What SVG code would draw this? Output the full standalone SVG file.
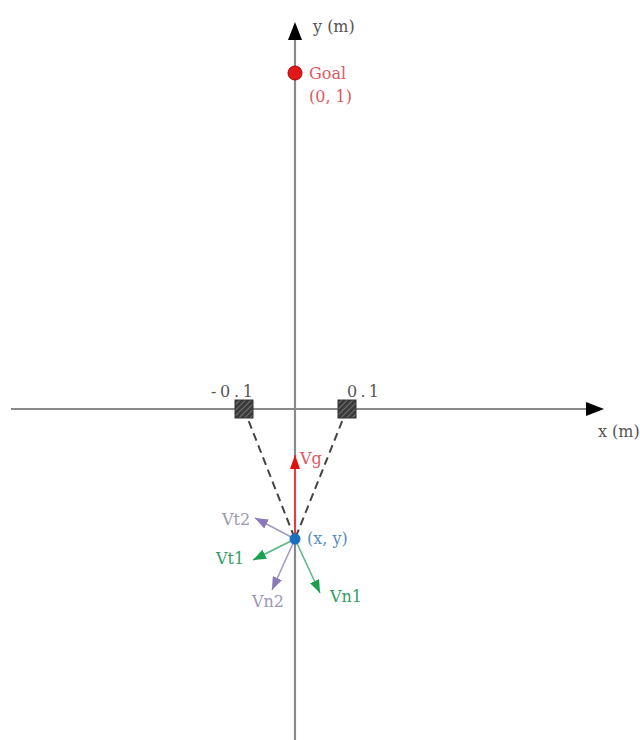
<svg xmlns="http://www.w3.org/2000/svg" width="640" height="740" viewBox="0 0 640 740">
<style>
.axis{stroke:#8a8a8a;stroke-width:2.2;fill:none}
.dash{stroke:#444;stroke-width:2;stroke-dasharray:8 5;fill:none}
.t{font-family:"DejaVu Serif","Liberation Serif",serif;font-size:16px}
.blk{fill:#555}
.red{fill:#e0585c}
.blue{fill:#5a8cc4}
.grn{fill:#2f9e5f}
.pur{fill:#9a98b0}
</style>
<defs>
<marker id="ahR" markerWidth="14" markerHeight="10" refX="14" refY="5" viewBox="0 0 14 10" orient="auto" markerUnits="userSpaceOnUse">
<path d="M0,0 L14,5 L0,10 Z" fill="#e01010"/>
</marker>
<marker id="ahG" markerWidth="13" markerHeight="10" refX="13" refY="5" viewBox="0 0 13 10" orient="auto" markerUnits="userSpaceOnUse">
<path d="M0,0 L13,5 L0,10 Z" fill="#1aa050"/>
</marker>
<marker id="ahP" markerWidth="13" markerHeight="10" refX="13" refY="5" viewBox="0 0 13 10" orient="auto" markerUnits="userSpaceOnUse">
<path d="M0,0 L13,5 L0,10 Z" fill="#8a78b8"/>
</marker>
<pattern id="hatch" width="4" height="4" patternUnits="userSpaceOnUse" patternTransform="rotate(45)">
<rect width="4" height="4" fill="#3a3a3a"/>
<line x1="0" y1="0" x2="0" y2="4" stroke="#9a9a9a" stroke-width="1.2"/>
</pattern>
</defs>

<g id="axes">
<line class="axis" x1="11" y1="409" x2="590" y2="409"/>
<line class="axis" x1="295" y1="740" x2="295" y2="36"/>
<path d="M586,402 L604,409 L586,416 Z" fill="#000"/>
<path d="M288,40 L295,22 L302,40 Z" fill="#000"/>
<text class="t blk" x="313" y="32">y (m)</text>
<text class="t blk" x="598" y="437" font-size="14">x (m)</text>
</g>

<g id="connectors">
<line class="dash" x1="244" y1="409" x2="295" y2="539"/>
<line class="dash" x1="347" y1="409" x2="295" y2="539"/>
<line x1="295" y1="539" x2="295" y2="455" stroke="#e04040" stroke-width="2" marker-end="url(#ahR)"/>
<line x1="295" y1="539" x2="255" y2="518" stroke="#a29cc0" stroke-width="1.6" marker-end="url(#ahP)"/>
<line x1="295" y1="539" x2="253" y2="560" stroke="#5cb886" stroke-width="1.6" marker-end="url(#ahG)"/>
<line x1="295" y1="539" x2="272" y2="590" stroke="#a29cc0" stroke-width="1.6" marker-end="url(#ahP)"/>
<line x1="295" y1="539" x2="320" y2="593" stroke="#5cb886" stroke-width="1.6" marker-end="url(#ahG)"/>
</g>

<g id="obstacle-left">
<rect x="235" y="400" width="18" height="18" fill="url(#hatch)" stroke="#333" stroke-width="1"/>
<text class="t blk" x="211" y="397" font-size="17" textLength="42" lengthAdjust="spacing">-0.1</text>
</g>
<g id="obstacle-right">
<rect x="338" y="400" width="18" height="18" fill="url(#hatch)" stroke="#333" stroke-width="1"/>
<text class="t blk" x="347" y="397" font-size="17" textLength="32" lengthAdjust="spacing">0.1</text>
</g>

<g id="goal">
<circle cx="295" cy="73" r="7" fill="#e01818" stroke="#b00000" stroke-width="1"/>
<text class="t red" x="309" y="79">Goal</text>
<text class="t red" x="309" y="102">(0, 1)</text>
</g>

<g id="robot">
<circle cx="295" cy="539" r="5.5" fill="#1a6fc0"/>
<text class="t blue" x="307" y="544">(x, y)</text>
</g>

<g id="labels">
<text class="t red" x="300" y="464">Vg</text>
<text class="t pur" x="222" y="525">Vt2</text>
<text class="t grn" x="216" y="564">Vt1</text>
<text class="t pur" x="252" y="607">Vn2</text>
<text class="t grn" x="330" y="602">Vn1</text>
</g>
</svg>
